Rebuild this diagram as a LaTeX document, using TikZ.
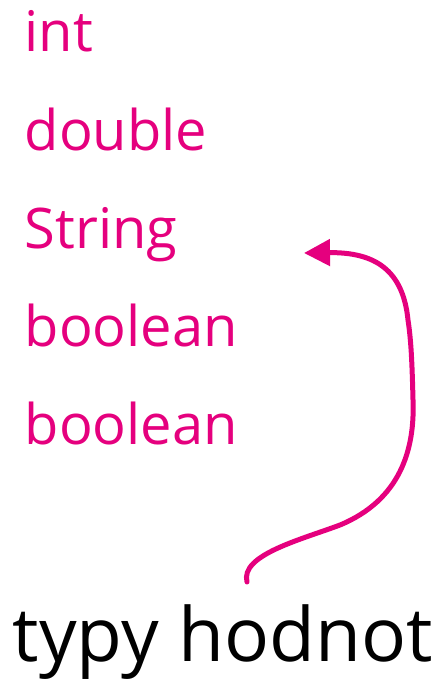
\documentclass[tikz,border=0pt]{standalone}
\usepackage{fontspec}
\setmainfont{Open Sans}
\usetikzlibrary{arrows.meta}
\definecolor{mag}{HTML}{E5007E}
\begin{document}
\begin{tikzpicture}[x=1pt,y=-1pt,
  kw/.style={anchor=base west,inner sep=0pt,text=mag,font=\fontsize{56}{56}\selectfont},
  lbl/.style={anchor=base west,inner sep=0pt,text=black,font=\fontsize{74.8}{74.8}\selectfont},
  arr/.style={draw=mag,line width=5pt,line cap=round,-{Triangle[length=26pt,width=26pt]}}]
\useasboundingbox (0,0) rectangle (440,679);
\node[kw] (int) at (24.5,52) {int};
\node[kw] (dbl) at (24.5,150) {double};
\node[kw] (str) at (24.5,248) {String};
\node[kw] (b1) at (24.5,346) {boolean};
\node[kw] (b2) at (24.5,444) {boolean};
\node[lbl] (typ) at (12.5,661) {typy hodnot};
\coordinate (s) at (247,582);
\coordinate (e) at (304,253);
\draw[arr] (s) .. controls (240,555) and (300,540) .. (340,525)
  .. controls (400,500) and (415,450) .. (413,400)
  .. controls (412,360) and (411,340) .. (408,320)
  .. controls (403,270) and (375,252) .. (e);
\end{tikzpicture}
\end{document}
